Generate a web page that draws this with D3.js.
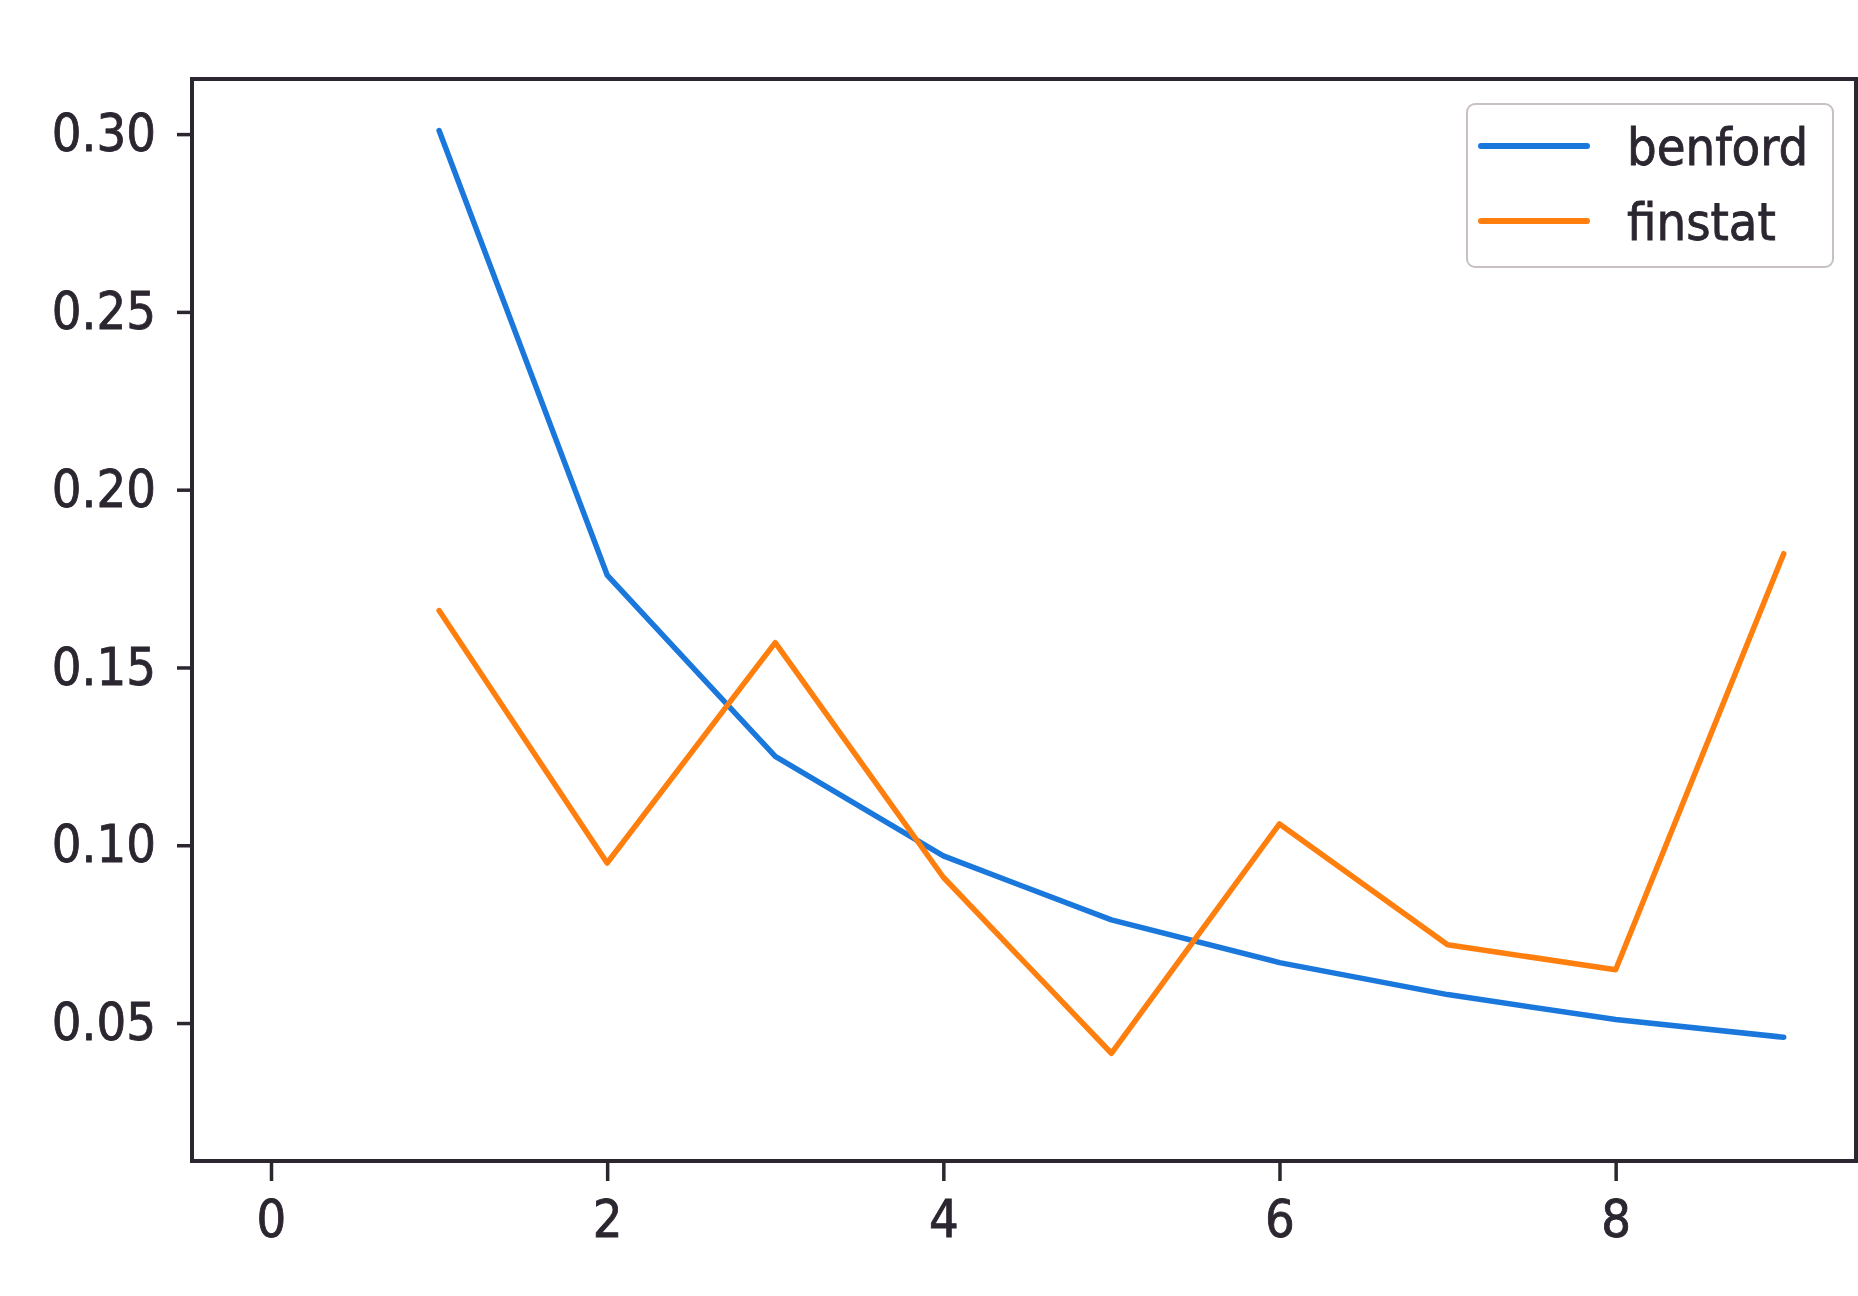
<!DOCTYPE html>
<html>
<head>
<meta charset="utf-8">
<script src="https://cdn.jsdelivr.net/npm/d3@7"></script>
<style>
  html, body { margin: 0; padding: 0; background: #fff; }
  svg { display: block; }
</style>
</head>
<body>
<div id="chart"></div>
<script>
// leading digit frequencies
const digits = [1, 2, 3, 4, 5, 6, 7, 8, 9];
const benford = [0.301, 0.176, 0.125, 0.097, 0.079, 0.067, 0.058, 0.051, 0.046];
const finstat = [0.166, 0.095, 0.157, 0.091, 0.0415, 0.106, 0.072, 0.065, 0.182];
const xTicks = [0, 2, 4, 6, 8];
const yTicks = [0.05, 0.10, 0.15, 0.20, 0.25, 0.30];
const seriesNames = ["benford", "finstat"];
const seriesColors = ["#1a78dc", "#ff7f0e"];

const width = 1858;
const height = 1296;
const plotLeft = 192, plotRight = 1856, plotTop = 79, plotBottom = 1161;
const ink = "#2b2630";
const font = "'DejaVu Sans Condensed', 'DejaVu Sans', sans-serif";

const svg = d3.select("#chart")
    .append("svg")
    .attr("width", width)
    .attr("height", height);

const x = d3.scaleLinear()
    .domain([-0.47, 9.43])
    .range([plotLeft, plotRight]);

const y = d3.scaleLinear()
    .domain([0.0112, 0.3155])
    .range([plotBottom, plotTop]);

// axes
const yAxis = svg.append("g")
    .attr("transform", `translate(${plotLeft},0)`)
    .call(d3.axisLeft(y).tickValues(yTicks).tickFormat(d3.format(".2f"))
        .tickSize(15).tickPadding(21));

const xAxis = svg.append("g")
    .attr("transform", `translate(0,${plotBottom})`)
    .call(d3.axisBottom(x).tickValues(xTicks).tickFormat(d3.format("d"))
        .tickSize(20).tickPadding(19));

[xAxis, yAxis].forEach(ax => {
    ax.select(".domain").remove();
    ax.selectAll("line").attr("stroke", ink).attr("stroke-width", 3.5);
    ax.selectAll("text")
        .attr("fill", ink)
        .attr("stroke", ink)
        .attr("stroke-width", 0.8)
        .style("font-family", font)
        .style("font-stretch", "condensed")
        .style("font-size", "52px");
});

// lines
const line = d3.line()
    .x((d, i) => x(digits[i]))
    .y(d => y(d));

[benford, finstat].forEach((vals, k) => {
    svg.append("path")
        .datum(vals)
        .attr("d", line)
        .attr("fill", "none")
        .attr("stroke", seriesColors[k])
        .attr("stroke-width", 5.5)
        .attr("stroke-linejoin", "round")
        .attr("stroke-linecap", "round");
});

// frame
svg.append("rect")
    .attr("x", plotLeft)
    .attr("y", plotTop)
    .attr("width", plotRight - plotLeft)
    .attr("height", plotBottom - plotTop)
    .attr("fill", "none")
    .attr("stroke", ink)
    .attr("stroke-width", 4);

// legend
const legend = svg.append("g").attr("transform", "translate(1467,104)");
legend.append("rect")
    .attr("width", 366)
    .attr("height", 163)
    .attr("rx", 8)
    .attr("fill", "#fff")
    .attr("fill-opacity", 0.8)
    .attr("stroke", "#c8c0c4")
    .attr("stroke-width", 2);

seriesNames.forEach((name, i) => {
    const row = legend.append("g").attr("transform", `translate(0,${42 + i * 75})`);
    row.append("line")
        .attr("x1", 14).attr("x2", 120)
        .attr("stroke", seriesColors[i])
        .attr("stroke-width", 6)
        .attr("stroke-linecap", "round");
    row.append("text")
        .attr("x", 160)
        .attr("y", 19)
        .attr("fill", ink)
        .attr("stroke", ink)
        .attr("stroke-width", 0.8)
        .style("font-family", font)
        .style("font-stretch", "condensed")
        .style("font-size", "52px")
        .text(name);
});
</script>
</body>
</html>
